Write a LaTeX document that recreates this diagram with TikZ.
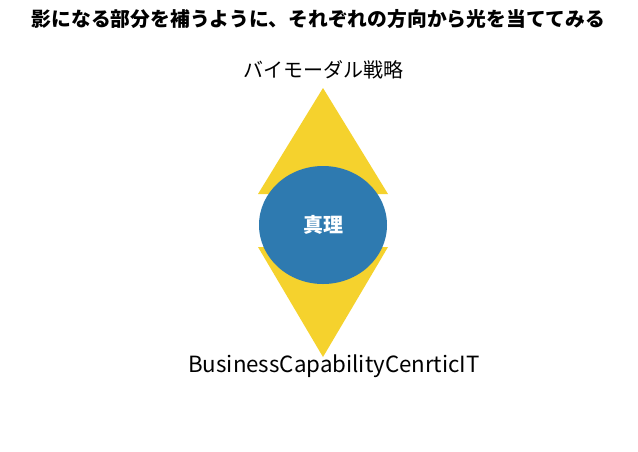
\documentclass[tikz,border=0pt]{standalone}
\usepackage{fontspec}
\setmainfont{Noto Sans CJK JP}
\usetikzlibrary{shapes.geometric}
\definecolor{triyellow}{RGB}{245,210,45}
\definecolor{circblue}{RGB}{46,122,176}
\tikzset{
  tri/.style={fill=triyellow, draw=none},
  label/.style={text=black, inner sep=0pt},
}
\begin{document}
\begin{tikzpicture}[x=1pt,y=-1pt]
\useasboundingbox (0,0) rectangle (638,451);
\fill[white] (0,0) rectangle (638,451);
\node[inner sep=0pt, font=\fontsize{19.8}{24}\selectfont\bfseries] (title) at (318.5,19.5) {影になる部分を補うように、それぞれの方向から光を当ててみる};
\coordinate (ta) at (323,88);
\coordinate (tl) at (258,194);
\coordinate (tr) at (388,194);
\coordinate (bl) at (258,247);
\coordinate (br) at (388,247);
\coordinate (ba) at (323,357);
\fill[tri] (ta) -- (tr) -- (tl) -- cycle;
\fill[tri] (bl) -- (br) -- (ba) -- cycle;
\node[ellipse, fill=circblue, minimum width=128, minimum height=118, inner sep=0pt, text=white, font=\fontsize{20}{22}\selectfont\bfseries] (truth) at (323,225) {真理};
\node[label, font=\fontsize{20}{24}\selectfont] (top) at (323,70) {バイモーダル戦略};
\node[label, font=\fontsize{22.3}{26}\selectfont] (bottom) at (334,366) {BusinessCapabilityCenrticIT};
\end{tikzpicture}
\end{document}
